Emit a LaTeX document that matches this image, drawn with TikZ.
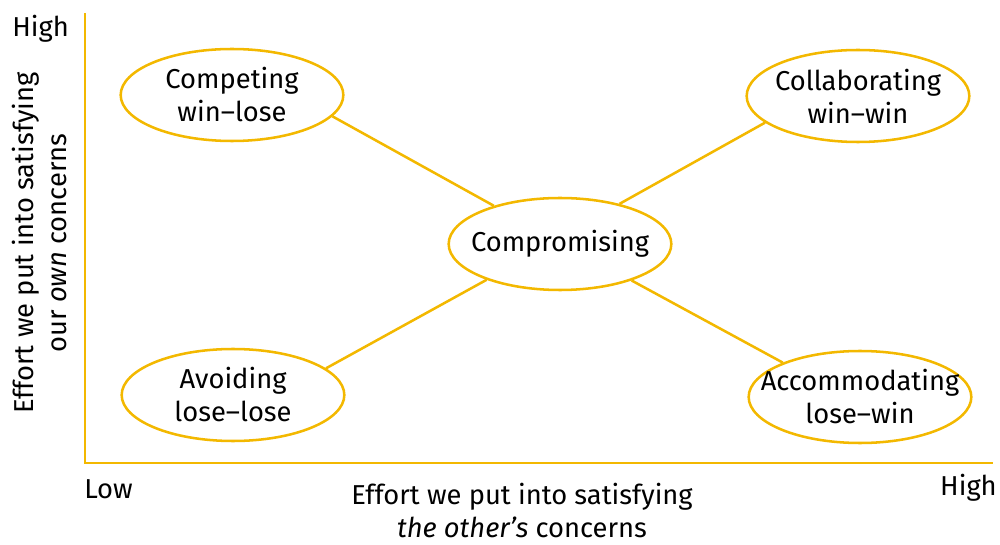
\documentclass[tikz,border=0pt]{standalone}
\usepackage{fontspec}
\setmainfont{Fira Sans}
\usetikzlibrary{shapes.geometric}
\definecolor{gold}{RGB}{243,184,0}

\begin{document}
\begin{tikzpicture}[x=0.75pt, y=-0.75pt, mode/.style={ellipse, draw=gold, line width=1.9pt, minimum width=167pt, minimum height=69pt, inner xsep=-16pt, inner ysep=0pt, align=center, font=\fontsize{20.5}{24.75}\selectfont}, link/.style={draw=gold, line width=1.9pt}, axis/.style={draw=gold, line width=2.2pt}, lbl/.style={inner sep=0pt, font=\fontsize{20.5}{24.75}\selectfont}]

\useasboundingbox (0,0) rectangle (1000,545);
\coordinate (top) at (85,13); \coordinate (origin) at (85,463); \coordinate (right) at (993,463);
\draw[axis] (top) -- (origin) -- (right);

% styles of handling conflict
\node[mode] (compete) at (232,95) {Competing\\win--lose};
\node[mode] (collab) at (858,96) {Collaborating\\win--win};
\node[mode] (compro) at (560,244) {Compromising};
\node[mode] (avoid) at (233,395) {Avoiding\\lose--lose};
\node[mode] (accom) at (860,397) {Accommodating\\lose--win};

\draw[link] (compete.-12) -- (compro.150); \draw[link] (collab.196) -- (compro.34);
\draw[link] (compro.206) -- (avoid.16); \draw[link] (compro.-27) -- (accom.156);

% axis labels
\node[lbl, anchor=base west] (yhigh) at (12,37) {High};
\node[lbl, anchor=base west] (xlow) at (84,498) {Low};
\node[lbl, anchor=base east] (xhigh) at (997,495) {High};
\node[lbl, align=center] (xtitle) at (522,511) {Effort we put into satisfying\\\textit{the other's} concerns};
\node[lbl, align=center, rotate=90] (ytitle) at (40,243) {Effort we put into satisfying\\our \textit{own} concerns};
\end{tikzpicture}
\end{document}
